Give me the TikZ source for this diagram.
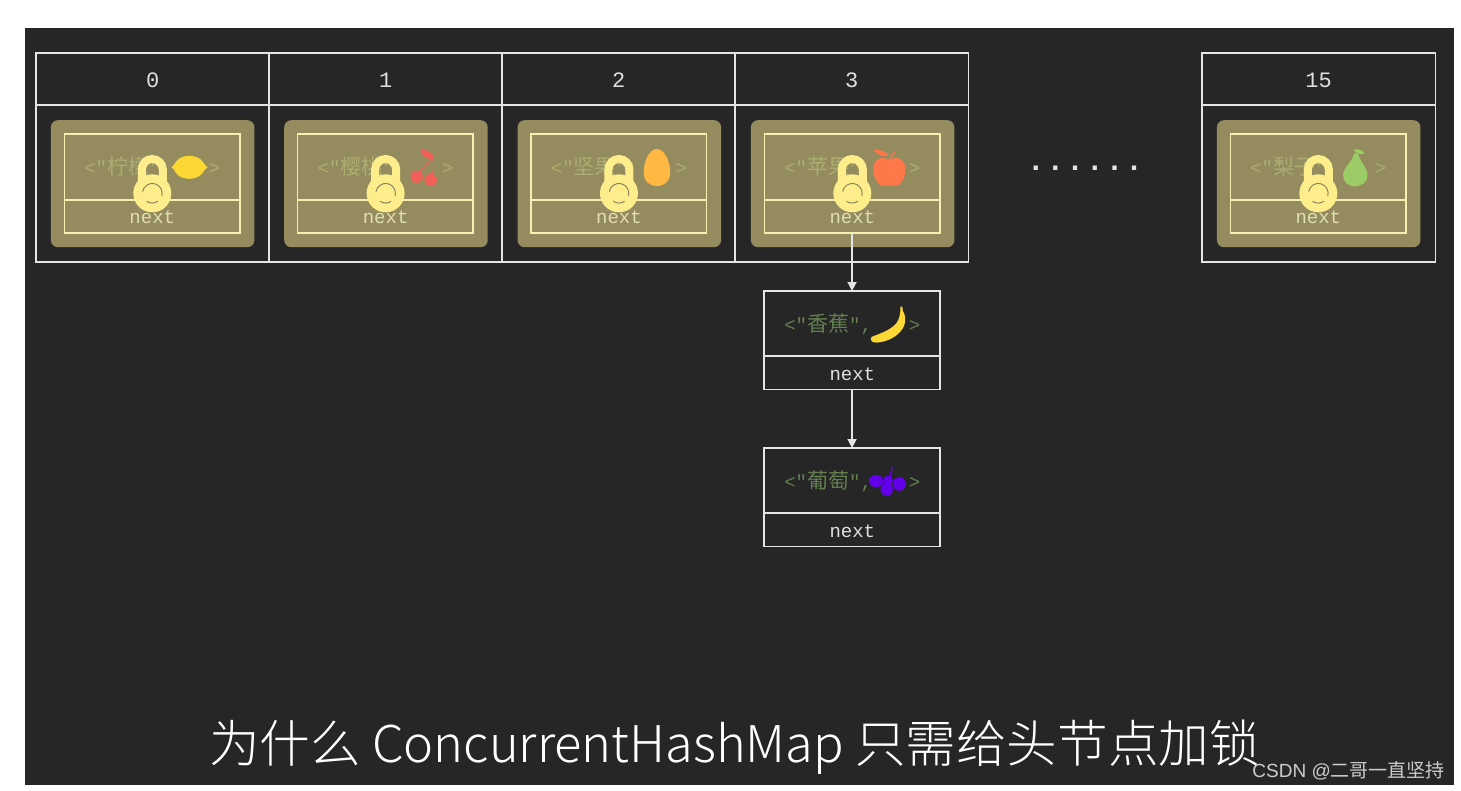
\documentclass[tikz,border=0pt]{standalone}
\usepackage{fontspec}
\setmainfont{Liberation Mono}
\newfontfamily\mono{Liberation Mono}
\newfontfamily\cjk{Noto Sans CJK SC}
\newfontfamily\cjkl{Noto Sans CJK SC Light}
\newfontfamily\wm{Liberation Sans}
\usetikzlibrary{arrows.meta}
\definecolor{bgc}{HTML}{262626}
\definecolor{olive}{HTML}{948C5E}
\definecolor{ringc}{HTML}{8A8560}
\definecolor{linec}{HTML}{E4E4E4}
\definecolor{lockc}{HTML}{FDEE8B}
\definecolor{inner}{HTML}{F6EFB2}
\definecolor{keyh}{HTML}{ABAE70}
\definecolor{keyn}{HTML}{637F50}
\definecolor{nexth}{HTML}{E2DEB0}
\definecolor{nextn}{HTML}{E0E0E0}
\definecolor{lemonc}{HTML}{FDD835}
\definecolor{cherryc}{HTML}{F2605A}
\definecolor{eggc}{HTML}{FFB841}
\definecolor{applec}{HTML}{FF7849}
\definecolor{pearc}{HTML}{9CCC65}
\definecolor{grapec}{HTML}{6200EA}
\tikzset{
  cellbox/.style={draw=linec,line width=1.6pt,anchor=north west,inner sep=0pt,outer sep=0pt},
  idx/.style={text=nextn,font=\mono\fontsize{22}{22}\selectfont,yscale=1},
  heatbox/.style={fill=olive,rounded corners=7pt,anchor=north west,inner sep=0pt,minimum width=203.5pt,minimum height=127pt},
  ibox/.style={draw=inner,line width=1.6pt,anchor=north west,inner sep=0pt,outer sep=0pt,minimum width=175.5pt},
  nbox/.style={draw=linec,line width=1.7pt,anchor=north west,inner sep=0pt,outer sep=0pt,minimum width=175.5pt},
  nxt/.style={font=\mono\fontsize{19}{19}\selectfont},
  keyt/.style={font=\mono\fontsize{19}{19}\selectfont},
  link/.style={draw=linec,line width=1.6pt,-{Triangle[length=9pt,width=9pt]}},
}
\newcommand{\padlock}{%
  \draw[lockc,line width=8pt] (141.8,190) -- (141.8,169.5) arc (180:360:10.5) -- (162.8,190);
  \fill[lockc] (152.3,193.3) circle (19);
  \draw[ringc,line width=1pt] (142.65,191.6) arc (190:376:9.8);
  \draw[ringc,line width=1pt] (157.9,201.3) arc (55:125:9.8);
}
\newcommand{\headcell}[4]{%
  \begin{scope}[shift={(#1,0)}]
    \node[heatbox] (o#2) at (50.7,120) {};
    \node[ibox,minimum height=66pt] (k#2) at (64.3,134) {};
    \node[ibox,minimum height=33pt] (x#2) at (64.3,200) {};
    \node[text=keyh,keyt] (t#2) at (152.3,167.5) {<"{\cjk\fontsize{21}{21}\selectfont #3}",\hspace{37pt}>};
    \node[nxt,text=nexth] (y#2) at (152.3,217) {next};
    #4
    \padlock
  \end{scope}
}
\begin{document}
\begin{tikzpicture}[x=1pt,y=-1pt]
\useasboundingbox (0,0) rectangle (1461,790);
\fill[white] (0,0) rectangle (1461,790);
\fill[bgc] (25,28) rectangle (1454,785);
\foreach \i/\xx/\lab in {0/36/0,1/269/1,2/502/2,3/735/3,15/1202/15}{
  \node[cellbox,minimum width=233.3pt,minimum height=52.5pt] (top\i) at (\xx,53) {};
  \node[cellbox,minimum width=233.3pt,minimum height=157pt] (cell\i) at (\xx,105) {};
  \node[idx] (lab\i) at (\xx+116.6,80) {\lab};
}
\headcell{0}{0}{柠檬}{%
  \fill[lemonc] (189.3,167.3) ellipse (15.5 and 11.5);
  \fill[lemonc] (171.5,167.3) -- (176,163) -- (176,171.5) -- cycle;
  \fill[lemonc] (207.5,167.3) -- (203,163) -- (203,171.5) -- cycle;
}
\headcell{233.33}{1}{樱桃}{%
  \fill[cherryc] (183.4,176.7) circle (6.2);
  \fill[cherryc] (197.4,180) circle (6.2);
  \draw[cherryc,line width=.9pt] (183.4,176) .. controls (189,168) and (196,162) .. (200,159) .. controls (201,166) and (200,172) .. (197.4,180);
  \fill[cherryc] (187,149.5) .. controls (193,149) and (200,152) .. (200.5,159) .. controls (193,159.5) and (187.5,155) .. (187,149.5) -- cycle;
}
\headcell{466.66}{2}{坚果}{%
  \fill[eggc] (190.3,149) .. controls (198,149) and (203.6,162) .. (203.6,172) .. controls (203.6,181) and (198,186) .. (190.3,186) .. controls (182.5,186) and (177,181) .. (177,172) .. controls (177,162) and (182.5,149) .. (190.3,149) -- cycle;
}
\headcell{700}{3}{苹果}{%
  \fill[applec] (189.5,160) .. controls (180,155) and (173,160) .. (173.3,170) .. controls (173.5,178) and (179,187) .. (185,186) .. controls (187,185.5) and (192,185.5) .. (194,186) .. controls (200,187) and (205.5,178) .. (205.4,170) .. controls (205.5,160) and (199,155) .. (189.5,160) -- cycle;
  \draw[applec,line width=1.2pt] (189.5,160) -- (195,151.5);
  \fill[applec] (174,150) .. controls (180,149) and (187,152) .. (189,156) .. controls (182,157) and (177,155) .. (174,150) -- cycle;
}
\headcell{1166}{15}{梨子}{%
  \fill[pearc] (187.5,155) .. controls (188,152.5) and (192,152.5) .. (192.5,155) .. controls (193.5,161) and (201.5,168) .. (201.5,175) .. controls (201.5,182) and (196,186.3) .. (189,186.3) .. controls (182,186.3) and (177,182) .. (177,175) .. controls (177,168) and (186.5,161) .. (187.5,155) -- cycle;
  \fill[pearc] (188,149.5) .. controls (193,148.5) and (198,151) .. (198,153.5) .. controls (194,155) and (189,153.5) .. (188,149.5) -- cycle;
}
\node[text=linec,font=\mono\fontsize{30}{30}\selectfont\bfseries] (dots) at (1085,168) {\makebox[19.7pt]{.}\makebox[19.7pt]{.}\makebox[19.7pt]{.}\makebox[19.7pt]{.}\makebox[19.7pt]{.}\makebox[19.7pt]{.}};
\node[nbox,minimum height=65pt] (n1k) at (764.3,291) {};
\node[nbox,minimum height=33.5pt] (n1x) at (764.3,356) {};
\node[nbox,minimum height=65pt] (n2k) at (764.3,448) {};
\node[nbox,minimum height=33.5pt] (n2x) at (764.3,513) {};
\node[text=keyn,keyt] (n1t) at (852.3,324.5) {<"{\cjk\fontsize{21}{21}\selectfont 香蕉}",\hspace{37pt}>};
\node[text=keyn,keyt] (n2t) at (852.3,481.5) {<"{\cjk\fontsize{21}{21}\selectfont 葡萄}",\hspace{37pt}>};
\node[nxt,text=nextn] (n1y) at (852.3,374) {next};
\node[nxt,text=nextn] (n2y) at (852.3,531) {next};
\fill[lemonc] (871.5,337) .. controls (878,334) and (890,331) .. (896.5,323) .. controls (900,318) and (900.5,313) .. (900.3,306.5) -- (902.3,306.5) -- (902.8,311) .. controls (905,314) and (905.5,318) .. (905,322) .. controls (904,331) and (893,341) .. (878,342.5) .. controls (872,343.5) and (869.5,340) .. (871.5,337) -- cycle;
\draw[grapec,line width=1.4pt] (892.3,466.7) -- (889,481);
\fill[grapec] (876,481) ellipse (7 and 6.2);
\fill[grapec] (886.7,489.3) ellipse (6.2 and 6.8);
\fill[grapec] (899.3,484) ellipse (6.5 and 6.8);
\fill[grapec] (888,480.5) circle (5);
\draw[link] (x3.south) -- (n1k.north);
\draw[link] (n1x.south) -- (n2k.north);
\node[text=white,font=\cjkl\fontsize{50.6}{50.6}\selectfont,anchor=base] (title) at (734.5,762.5) {为什么 ConcurrentHashMap 只需给头节点加锁};
\node[text=white!80!black,font=\wm\fontsize{19}{19}\selectfont,anchor=base east,inner sep=0pt] (mark) at (1445,777) {CSDN @{\cjk 二哥一直坚持}};
\end{tikzpicture}
\end{document}
